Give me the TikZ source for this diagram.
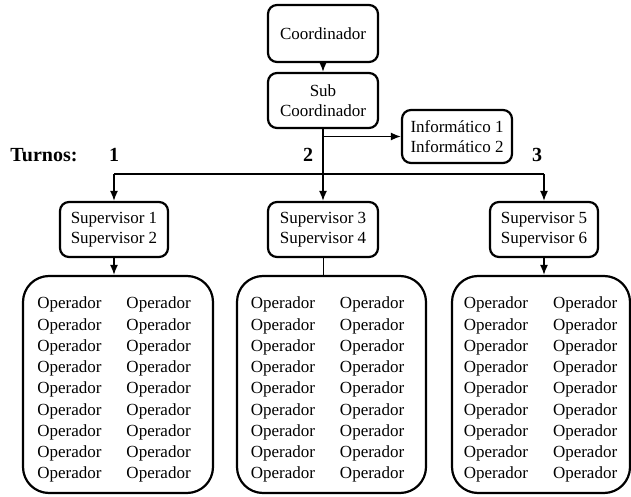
\documentclass[tikz,border=0pt]{standalone}
\usepackage{fontspec}
\setmainfont{Liberation Serif}
\usetikzlibrary{arrows.meta}
\begin{document}
\begin{tikzpicture}[x=1pt,y=1pt,
  txt/.style={font=\fontsize{17}{19.5}\selectfont, align=center},
  box/.style={draw, line width=2.2pt, rounded corners=9pt, inner sep=0pt, txt},
  bigbox/.style={draw, line width=2.2pt, rounded corners=26pt, inner sep=0pt},
  lbl/.style={font=\fontsize{20}{22}\selectfont\bfseries},
  conn/.style={line width=1.5pt},
  arr/.style={conn, -{Latex[length=10pt,width=8pt]}},
  ops/.style={font=\fontsize{17}{21.25}\selectfont, inner sep=0pt}
]
\useasboundingbox (0,0) rectangle (631,-497);

\newcommand{\opcols}{\setlength{\tabcolsep}{12.5pt}\renewcommand{\arraystretch}{1}%
\begin{tabular}{@{}ll@{}}
Operador & Operador\\ Operador & Operador\\ Operador & Operador\\
Operador & Operador\\ Operador & Operador\\ Operador & Operador\\
Operador & Operador\\ Operador & Operador\\ Operador & Operador
\end{tabular}}

\node[box, minimum width=110, minimum height=57] (coord) at (323,-33.5) {Coordinador};
\node[box, minimum width=110, minimum height=55] (sub) at (323,-100.5) {Sub\\Coordinador};
\node[box, minimum width=110, minimum height=53] (inf) at (457,-136.5) {Informático 1\\Informático 2};
\node[box, minimum width=108, minimum height=55] (sup1) at (114,-229.5) {Supervisor 1\\Supervisor 2};
\node[box, minimum width=110, minimum height=55] (sup3) at (323,-229.5) {Supervisor 3\\Supervisor 4};
\node[box, minimum width=108, minimum height=55] (sup5) at (544,-229.5) {Supervisor 5\\Supervisor 6};

\node[bigbox, minimum width=190, minimum height=217] (b1) at (118,-384.5) {};
\node[bigbox, minimum width=189, minimum height=217] (b2) at (331.5,-384.5) {};
\node[bigbox, minimum width=178, minimum height=217] (b3) at (541,-384.5) {};

\node[ops] (o1) at (114,-389.5) {\opcols};
\node[ops] (o2) at (327.5,-389.5) {\opcols};
\node[ops] (o3) at (540.5,-389.5) {\opcols};

\node[lbl] (turnos) at (44,-155) {Turnos:};
\node[lbl] (n1) at (114,-155) {1};
\node[lbl] (n2) at (308,-155) {2};
\node[lbl] (n3) at (537,-155) {3};

\coordinate (j1) at (114,-174);
\coordinate (j2) at (323,-174);
\coordinate (j3) at (544,-174);

\draw[arr] (coord.south) -- (sub.north);
\draw[arr] (sub.south) -- (sup3.north);
\draw[arr] (sub.south |- inf.west) -- (inf.west);
\draw[conn] (j1) -- (j3);
\draw[arr] (j1) -- (sup1.north);
\draw[arr] (j3) -- (sup5.north);
\draw[arr] (sup1.south) -- (b1.north -| sup1.south);
\draw[line width=0.8pt] (sup3.south) -- (b2.north -| sup3.south);
\draw[arr] (sup5.south) -- (b3.north -| sup5.south);
\end{tikzpicture}
\end{document}
